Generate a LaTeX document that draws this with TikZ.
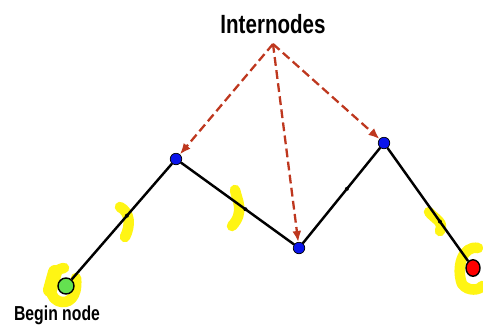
\documentclass[tikz,border=0pt]{standalone}
\usepackage{fontspec}
\setmainfont{Liberation Sans}
\newfontfamily\narrowfont[FakeStretch=0.78]{Liberation Sans}
\usepackage{xcolor}
\usetikzlibrary{arrows.meta, positioning, shapes.geometric}
\definecolor{arrowred}{RGB}{190, 55, 30}
\definecolor{hilite}{RGB}{255, 245, 20}
\definecolor{joinblue}{RGB}{10, 20, 235}
\definecolor{startgreen}{RGB}{100, 225, 80}
\tikzset{
  joint/.style={circle, draw=black, thin, fill=joinblue, minimum size=0.23cm, inner sep=0pt},
  stem/.style={line width=1.4pt, black},
  leafdot/.style={circle, fill=black, minimum size=0.08cm, inner sep=0pt},
  pointer/.style={-{Latex[length=2.2mm, width=1.8mm]}, arrowred, line width=1.3pt, dash pattern=on 5pt off 2.5pt},
  marker/.style={hilite, line width=6pt, line cap=round, line join=round}
}
\begin{document}
\begin{tikzpicture}[x=0.02cm, y=-0.02cm]
  \useasboundingbox (0,0) rectangle (483,329);
  % highlighter marks
  \draw[marker] (64,268) .. controls (48,270) and (46,296) .. (58,301) .. controls (68,305) and (78,298) .. (76,278);
  \draw[marker, line width=8pt] (55,272) -- (50,290);
  \draw[marker] (120,207) .. controls (130,212) and (131,225) .. (125,237);
  \draw[marker] (235,190) .. controls (237,200) and (245,212) .. (232,226);
  \draw[marker] (429,212) .. controls (436,220) and (444,222) .. (440,231);
  \draw[marker] (478,248) .. controls (462,245) and (456,268) .. (462,284) .. controls (468,292) and (480,290) .. (482,286);
  % nodes
  \node[joint, fill=startgreen, minimum size=0.32cm, line width=0.8pt] (begin) at (66,286) {};
  \node[joint] (first) at (176,159) {};
  \node[joint] (second) at (299,248) {};
  \node[joint] (third) at (384,143) {};
  \node[joint, fill=red, minimum width=0.28cm, minimum height=0.33cm, ellipse, line width=0.8pt] (finish) at (473,268) {};
  % stem
  \draw[stem] (begin) -- node[leafdot, pos=0.55] {} (first);
  \draw[stem] (first) -- node[leafdot, pos=0.57] {} (second);
  \draw[stem] (second) -- node[leafdot, pos=0.57] {} (third);
  \draw[stem] (third) -- node[leafdot, pos=0.65] {} (finish);
  % labels
  \node[font=\narrowfont\bfseries\fontsize{15}{17}\selectfont, inner sep=1pt] (internodes) at (273,24) {Internodes};
  \node[font=\narrowfont\bfseries\fontsize{11.5}{13}\selectfont, inner sep=1pt] (beginlabel) at (57,315) {Begin node};
  \coordinate (source) at (273,44);
  \draw[pointer] (source) -- (first);
  \draw[pointer] (source) -- (second);
  \draw[pointer] (source) -- (third);
\end{tikzpicture}
\end{document}
